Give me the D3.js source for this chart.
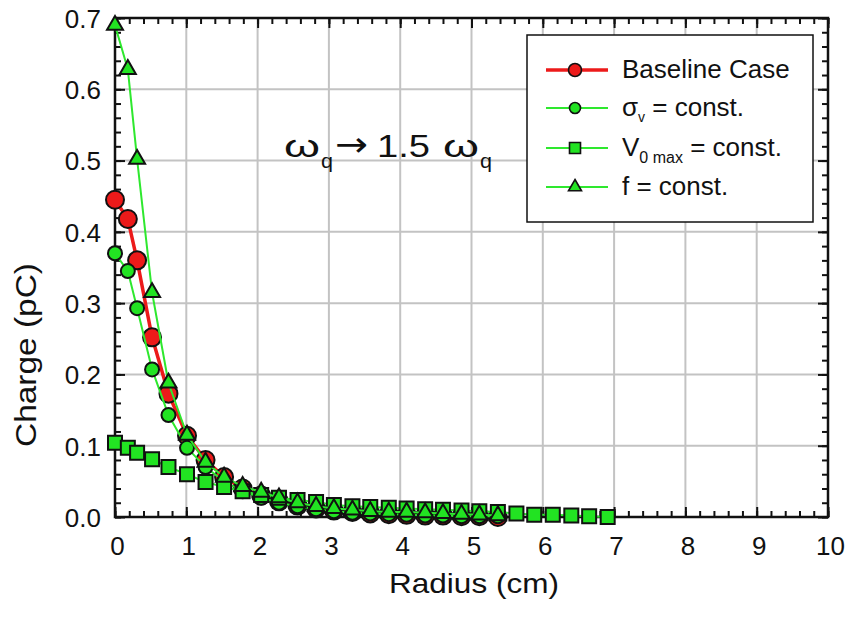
<!DOCTYPE html>
<html>
<head>
<meta charset="utf-8">
<script src="https://cdn.jsdelivr.net/npm/d3@7"></script>
<style>
  body { margin: 0; background: #fff; }
  svg { display: block; }
  text { font-family: "Liberation Sans", Arial, Helvetica, sans-serif; fill: #111; }
</style>
</head>
<body>
<svg id="chart" width="851" height="620"></svg>
<script>
// Radial sample positions (cm)
const radius = [0, 0.18, 0.31, 0.52, 0.75, 1.01, 1.27, 1.53, 1.79, 2.05, 2.3, 2.56, 2.82,
                3.07, 3.33, 3.58, 3.84, 4.09, 4.35, 4.6, 4.86, 5.11, 5.37,
                5.63, 5.88, 6.14, 6.4, 6.65, 6.91];

// Charge (pC) for each case
const baselineCase = [0.445, 0.418, 0.360, 0.252, 0.173, 0.114, 0.080, 0.056, 0.040, 0.030,
                      0.022, 0.016, 0.012, 0.009, 0.007, 0.005, 0.004, 0.003, 0.002, 0.002,
                      0.001, 0.001, 0.000];
const sigmaConst   = [0.370, 0.345, 0.293, 0.207, 0.143, 0.097, 0.070, 0.050, 0.036, 0.027,
                      0.020, 0.015, 0.011, 0.008, 0.006, 0.005, 0.004, 0.003, 0.002, 0.002,
                      0.001, 0.001, 0.001];
const v0Const      = [0.104, 0.097, 0.090, 0.081, 0.070, 0.060, 0.049, 0.042, 0.036, 0.031,
                      0.027, 0.024, 0.021, 0.017, 0.015, 0.014, 0.013, 0.012, 0.011, 0.010,
                      0.009, 0.008, 0.007, 0.005, 0.003, 0.003, 0.002, 0.001, 0.000];
const fConst       = [0.690, 0.628, 0.502, 0.315, 0.188, 0.115, 0.077, 0.056, 0.043, 0.035,
                      0.027, 0.020, 0.015, 0.012, 0.010, 0.008, 0.007, 0.007, 0.006, 0.005,
                      0.004, 0.003, 0.002];

const xTicks = [0, 1, 2, 3, 4, 5, 6, 7, 8, 9, 10];
const yTicks = [0, 0.1, 0.2, 0.3, 0.4, 0.5, 0.6, 0.7];

const RED = "#ec1a1a", GREEN = "#22e322", LINE_GREEN = "#2ee82e";

const svg = d3.select("#chart");
const x = d3.scaleLinear().domain([0, 10]).range([115, 828]);
const y = d3.scaleLinear().domain([0, 0.7]).range([517, 18]);

// Grid
const grid = svg.append("g").attr("stroke", "#c3c3c3").attr("stroke-width", 2);
grid.selectAll("line.gx").data(xTicks.slice(1, -1)).join("line")
  .attr("x1", d => x(d)).attr("x2", d => x(d)).attr("y1", y(0)).attr("y2", y(0.7));
grid.selectAll("line.gy").data(yTicks.slice(1, -1)).join("line")
  .attr("y1", d => y(d)).attr("y2", d => y(d)).attr("x1", x(0)).attr("x2", x(10));

// Axes: inward major and minor ticks on all four sides
const xMinor = d3.range(0, 10.001, 0.2);
const yMinor = d3.range(0, 0.7001, 0.02);
function tickAxis(axisFn, scale, values, size, pos, labels) {
  const a = axisFn(scale).tickValues(values).tickSizeInner(-size).tickSizeOuter(0);
  if (!labels) a.tickFormat("");
  const g = svg.append("g").attr("transform", pos).call(a);
  g.select(".domain").remove();
  g.selectAll(".tick line").attr("stroke", "#111").attr("stroke-width", 2);
  return g;
}
tickAxis(d3.axisBottom, x, xMinor, 6, `translate(0,${y(0)})`, false);
tickAxis(d3.axisTop, x, xMinor, 6, `translate(0,${y(0.7)})`, false);
tickAxis(d3.axisLeft, y, yMinor, 6, `translate(${x(0)},0)`, false);
tickAxis(d3.axisRight, y, yMinor, 6, `translate(${x(10)},0)`, false);

const gx = tickAxis(d3.axisBottom, x, xTicks, 10, `translate(0,${y(0)})`, true);
gx.selectAll(".tick text").attr("y", 20).attr("dx", 2).attr("dy", "0.71em")
  .attr("font-size", 26).attr("font-family", null).attr("fill", "#111");
tickAxis(d3.axisTop, x, xTicks, 10, `translate(0,${y(0.7)})`, false);
const gy = tickAxis(d3.axisLeft, y, yTicks, 10, `translate(${x(0)},0)`, true);
gy.selectAll(".tick text").attr("x", -14).attr("dy", "0.36em")
  .attr("font-size", 26).attr("font-family", null).attr("fill", "#111")
  .text(d => d3.format(".1f")(d));
tickAxis(d3.axisRight, y, yTicks, 10, `translate(${x(10)},0)`, false);

// Frame
svg.append("rect").attr("x", x(0)).attr("y", y(0.7))
  .attr("width", x(10) - x(0)).attr("height", y(0) - y(0.7))
  .attr("fill", "none").attr("stroke", "#111").attr("stroke-width", 2.5);

// Axis titles
svg.append("text").attr("x", 474).attr("y", 593).attr("text-anchor", "middle")
  .attr("font-size", 28).attr("textLength", 170).attr("lengthAdjust", "spacingAndGlyphs")
  .text("Radius (cm)");
svg.append("text").attr("transform", "translate(36,355) rotate(-90)").attr("text-anchor", "middle")
  .attr("font-size", 29).attr("textLength", 184).attr("lengthAdjust", "spacingAndGlyphs")
  .text("Charge (pC)");

// Series
const series = [
  { values: baselineCase, line: RED, width: 3.5, fill: RED, symbol: d3.symbolCircle, size: Math.PI * 9 * 9, lsize: Math.PI * 6.5 * 6.5 },
  { values: sigmaConst, line: LINE_GREEN, width: 2, fill: GREEN, symbol: d3.symbolCircle, size: Math.PI * 7 * 7, lsize: Math.PI * 5.5 * 5.5 },
  { values: v0Const, line: LINE_GREEN, width: 2, fill: GREEN, symbol: d3.symbolSquare, size: 14 * 14, lsize: 11 * 11 },
  { values: fConst, line: LINE_GREEN, width: 2, fill: GREEN, symbol: d3.symbolTriangle, size: 16 * 16 * Math.sqrt(3) / 4, lsize: 13 * 13 * Math.sqrt(3) / 4 }
];

const lineGen = d3.line().x(d => x(d[0])).y(d => y(d[1]));
series.forEach(s => {
  const pts = s.values.map((v, i) => [radius[i], v]);
  const g = svg.append("g");
  g.append("path").attr("d", lineGen(pts)).attr("fill", "none")
    .attr("stroke", s.line).attr("stroke-width", s.width).attr("stroke-linejoin", "round");
  g.selectAll("path.m").data(pts).join("path").attr("class", "m")
    .attr("transform", d => `translate(${x(d[0])},${y(d[1])})`)
    .attr("d", d3.symbol(s.symbol, s.size))
    .attr("fill", s.fill).attr("stroke", "#111").attr("stroke-width", 2);
});

// Annotation
const ann = svg.append("g");
const annParts = [
  { t: "\u03C9", x: 284, y: 157, fs: 31, w: 36 },
  { t: "q", x: 321, y: 168, fs: 21, w: 12 },
  { t: "\u2192", x: 335, y: 156, fs: 34, w: 33 },
  { t: "1.5", x: 377, y: 157, fs: 31, w: 53 },
  { t: "\u03C9", x: 443, y: 157, fs: 31, w: 36 },
  { t: "q", x: 480, y: 168, fs: 21, w: 12 }
];
annParts.forEach(p => {
  const t = ann.append("text").attr("x", p.x).attr("y", p.y).attr("font-size", p.fs)
    .attr("textLength", p.w).attr("lengthAdjust", "spacingAndGlyphs").text(p.t);
  if (p.t === "\u2192") t.style("font-family", "'DejaVu Sans', sans-serif");
});

// Legend
const legend = svg.append("g");
legend.append("rect").attr("x", 527).attr("y", 35).attr("width", 286).attr("height", 187)
  .attr("fill", "#fff").attr("stroke", "#111").attr("stroke-width", 1.5);
const legendRows = [70, 108, 148, 187];
series.forEach((s, i) => {
  const cy = legendRows[i];
  legend.append("line").attr("x1", 546).attr("x2", 608).attr("y1", cy).attr("y2", cy)
    .attr("stroke", s.line).attr("stroke-width", s.width);
  legend.append("path").attr("transform", `translate(575,${cy})`)
    .attr("d", d3.symbol(s.symbol, s.lsize))
    .attr("fill", s.fill).attr("stroke", "#111").attr("stroke-width", 1.6);
});
const lt0 = legend.append("text").attr("x", 622).attr("y", legendRows[0] + 8).attr("font-size", 26);
lt0.text("Baseline Case");
const lt1 = legend.append("text").attr("x", 622).attr("y", legendRows[1] + 8).attr("font-size", 26);
lt1.append("tspan").text("\u03C3");
lt1.append("tspan").attr("font-size", 14).attr("dy", 6).text("v");
lt1.append("tspan").attr("dy", -6).text(" = const.");
const lt2 = legend.append("text").attr("x", 622).attr("y", legendRows[2] + 8).attr("font-size", 26);
lt2.append("tspan").text("V");
lt2.append("tspan").attr("font-size", 16).attr("dy", 7).text("0 max");
lt2.append("tspan").attr("dy", -7).text(" = const.");
const lt3 = legend.append("text").attr("x", 622).attr("y", legendRows[3] + 8).attr("font-size", 26);
lt3.text("f = const.");
</script>
</body>
</html>
